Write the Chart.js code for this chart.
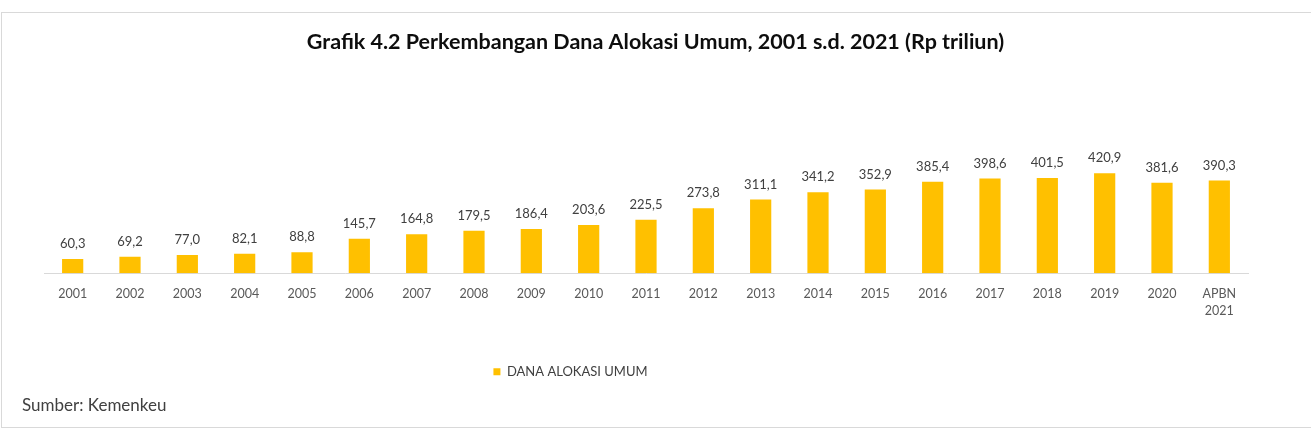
<!DOCTYPE html>
<html>
<head>
<meta charset="utf-8">
<script src="https://cdn.jsdelivr.net/npm/chart.js@4.4.1/dist/chart.umd.min.js"></script>
<style>
    html, body { margin: 0; padding: 0; background: #fff; overflow: hidden; }
    #frame {
        position: absolute;
        left: 1px;
        top: 12px;
        width: 1318px;
        height: 414px;
        border: 1px solid #d9d9d9;
        background: #fff;
    }
    #frame canvas { display: block; }
</style>
</head>
<body>
<div id="frame">
    <canvas id="myChart" width="1307" height="414"></canvas>
</div>
<script>
/*               data                */

const tahun = ['2001', '2002', '2003', '2004', '2005', '2006', '2007', '2008', '2009', '2010',
    '2011', '2012', '2013', '2014', '2015', '2016', '2017', '2018', '2019', '2020', ['APBN', '2021']];
const danaAlokasiUmum = [60.3, 69.2, 77.0, 82.1, 88.8, 145.7, 164.8, 179.5, 186.4, 203.6,
    225.5, 273.8, 311.1, 341.2, 352.9, 385.4, 398.6, 401.5, 420.9, 381.6, 390.3];
const namaSeri = 'DANA ALOKASI UMUM';
const judul = 'Grafik 4.2 Perkembangan Dana Alokasi Umum, 2001 s.d. 2021 (Rp triliun)';
const sumber = 'Sumber: Kemenkeu';

const fontName = 'Lato, "Open Sans", sans-serif';

/*               value labels above the bars                */

const barLabels = {
    id: 'barLabels',
    afterDatasetsDraw(chart) {
        let ctx = chart.ctx;
        ctx.save();
        ctx.font = '13px ' + fontName;
        ctx.fillStyle = '#404040';
        ctx.textAlign = 'center';
        ctx.textBaseline = 'middle';
        chart.getDatasetMeta(0).data.forEach(function (bar, i) {
            let txt = danaAlokasiUmum[i].toFixed(1).replace('.', ',');
            ctx.fillText(txt, bar.x, bar.y - 15);
        });
        ctx.restore();
    }
};

// legend sits left of centre in the original
const legendShift = {
    id: 'legendShift',
    afterLayout(chart) {
        chart.legend.left -= 85;
        chart.legend.right -= 85;
    }
};

let ctx = document.getElementById('myChart').getContext('2d');
let chart = new Chart(ctx, {
    type: 'bar',
    data: {
        labels: tahun,
        datasets: [{
            label: namaSeri,
            data: danaAlokasiUmum,
            backgroundColor: '#FFC000',
            borderWidth: 0,
            barPercentage: 0.37,
            categoryPercentage: 1
        }]
    },
    options: {
        responsive: false,
        animation: false,
        layout: { padding: { left: 20, right: 20, top: 0, bottom: 0 } },
        scales: {
            x: {
                grid: { display: false },
                border: { display: true, color: '#d9d9d9', width: 1 },
                ticks: {
                    color: '#595959',
                    font: { family: fontName, size: 12.5, lineHeight: 1.3 },
                    padding: 5,
                    maxRotation: 0,
                    autoSkip: false
                },
                afterFit: function (scale) { scale.height = 81.9; }
            },
            y: {
                min: 0,
                max: 880,
                grid: { display: false },
                border: { display: false },
                ticks: { display: false },
                afterFit: function (scale) { scale.width = 22; }
            },
            yRight: {
                position: 'right',
                min: 0,
                max: 880,
                grid: { display: false },
                border: { display: false },
                ticks: { display: false },
                afterFit: function (scale) { scale.width = 41; }
            }
        },
        plugins: {
            title: {
                display: true,
                text: judul,
                color: '#0d0d0d',
                font: { family: fontName, size: 21.5, weight: 'bold' },
                padding: { top: 16.1, bottom: 9.3 }
            },
            subtitle: {
                display: true,
                text: sumber,
                position: 'bottom',
                align: 'start',
                color: '#404040',
                font: { family: fontName, size: 17, weight: 'normal' },
                padding: { top: 7.6, bottom: 10.8 }
            },
            legend: {
                position: 'bottom',
                labels: {
                    boxWidth: 7,
                    boxHeight: 7,
                    color: '#404040',
                    font: { family: fontName, size: 13 },
                    padding: 10
                }
            },
            tooltip: { enabled: false }
        }
    },
    plugins: [barLabels, legendShift]
});
</script>
</body>
</html>
